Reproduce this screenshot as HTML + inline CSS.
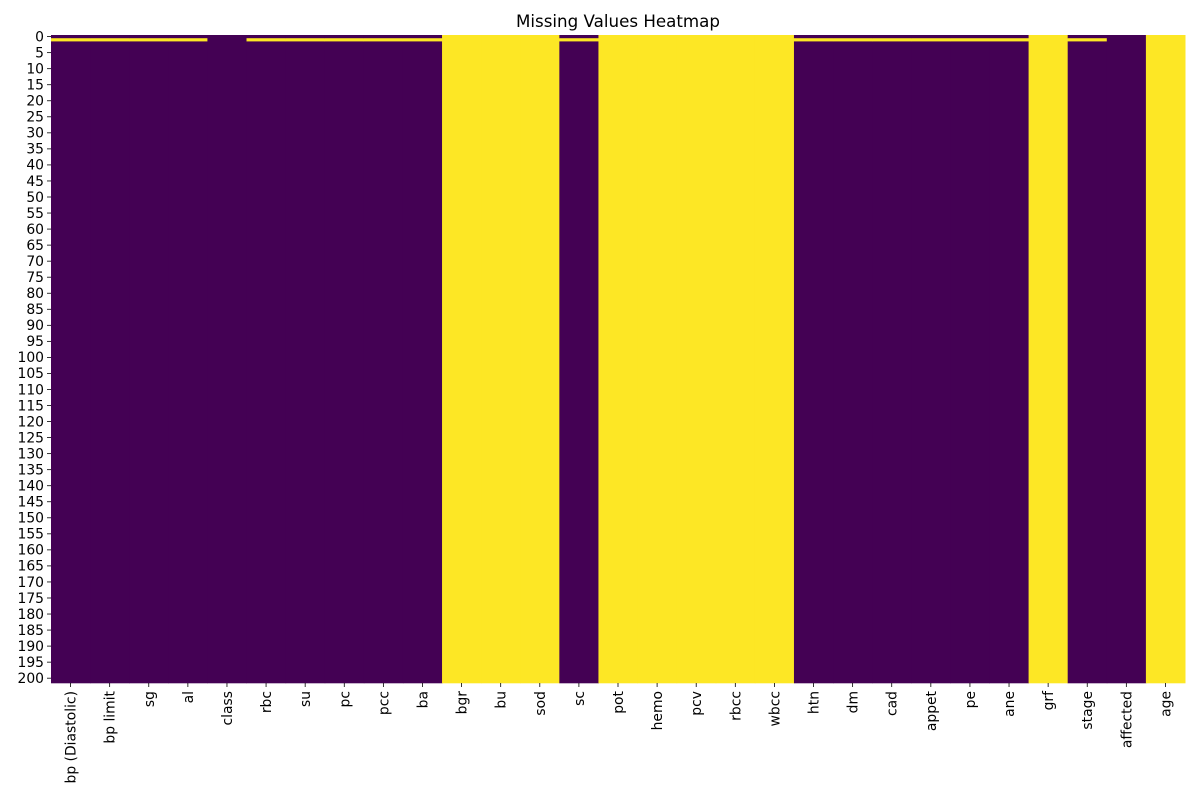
<!DOCTYPE html>
<html><head><meta charset="utf-8"><style>body{margin:0;background:#fff}svg{display:block;font-family:"DejaVu Sans","Liberation Sans",sans-serif}</style></head>
<body>
<svg id="chart" width="1200" height="800" xmlns="http://www.w3.org/2000/svg">
<text x="618" y="27" font-size="16.7" text-anchor="middle" fill="#000">Missing Values Heatmap</text>
<g id="cells"></g><g id="yaxis"></g><g id="xaxis"></g>
</svg>
<script>
const columns = ["bp (Diastolic)","bp limit","sg","al","class","rbc","su","pc","pcc","ba","bgr","bu","sod","sc","pot","hemo","pcv","rbcc","wbcc","htn","dm","cad","appet","pe","ane","grf","stage","affected","age"];
const fullyMissing = [0,0,0,0,0,0,0,0,0,0,1,1,1,0,1,1,1,1,1,0,0,0,0,0,0,1,0,0,1];
const row1Missing = [1,1,1,1,0,1,1,1,1,1,1,1,1,1,1,1,1,1,1,1,1,1,1,1,1,1,1,0,1];
const nRows = 202;
const yTicks = []; for (let t = 0; t <= 200; t += 5) yTicks.push(t);

const X0 = 51, X1 = 1185, Y0 = 35, Y1 = 683;
const cw = (X1 - X0) / columns.length, rh = (Y1 - Y0) / nRows;
const xPos = i => X0 + i * cw;
const yPos = r => Y0 + r * rh;
const NS = "http://www.w3.org/2000/svg";
const PURPLE = "#440154", YELLOW = "#fde725";
function isMissing(c, r) { return fullyMissing[c] === 1 || (r === 1 && row1Missing[c] === 1); }

const cells = document.getElementById("cells");
for (let c = 0; c < columns.length; c++) {
  let start = 0;
  for (let r = 1; r <= nRows; r++) {
    if (r === nRows || isMissing(c, r) !== isMissing(c, start)) {
      const rect = document.createElementNS(NS, "rect");
      rect.setAttribute("x", xPos(c)); rect.setAttribute("y", yPos(start));
      rect.setAttribute("width", cw + 0.5); rect.setAttribute("height", (r - start) * rh + 0.3);
      rect.setAttribute("fill", isMissing(c, start) ? YELLOW : PURPLE);
      
      
      cells.appendChild(rect);
      start = r;
    }
  }
}
const yaxis = document.getElementById("yaxis");
yTicks.forEach(t => {
  const y = yPos(t) + rh / 2;
  const ln = document.createElementNS(NS, "line");
  ln.setAttribute("x1", X0 - 4); ln.setAttribute("x2", X0); ln.setAttribute("y1", y); ln.setAttribute("y2", y);
  ln.setAttribute("stroke", "#000"); ln.setAttribute("stroke-width", "0.8");
  
  
  yaxis.appendChild(ln);
  const tx = document.createElementNS(NS, "text");
  tx.setAttribute("x", X0 - 7); tx.setAttribute("y", y + 4.8);
  tx.setAttribute("text-anchor", "end"); tx.setAttribute("font-size", "13.9");
  tx.textContent = t;
  
  
  yaxis.appendChild(tx);
});
const xaxis = document.getElementById("xaxis");
columns.forEach((name, i) => {
  const x = xPos(i) + cw / 2;
  const ln = document.createElementNS(NS, "line");
  ln.setAttribute("x1", x); ln.setAttribute("x2", x); ln.setAttribute("y1", Y1); ln.setAttribute("y2", Y1 + 4);
  ln.setAttribute("stroke", "#000"); ln.setAttribute("stroke-width", "0.8");
  
  
  xaxis.appendChild(ln);
  const tx = document.createElementNS(NS, "text");
  tx.setAttribute("transform", `translate(${x + 5},${Y1 + 8}) rotate(-90)`);
  tx.setAttribute("text-anchor", "end"); tx.setAttribute("font-size", "13.9");
  tx.textContent = name;
  
  
  xaxis.appendChild(tx);
});
</script>
</body></html>
